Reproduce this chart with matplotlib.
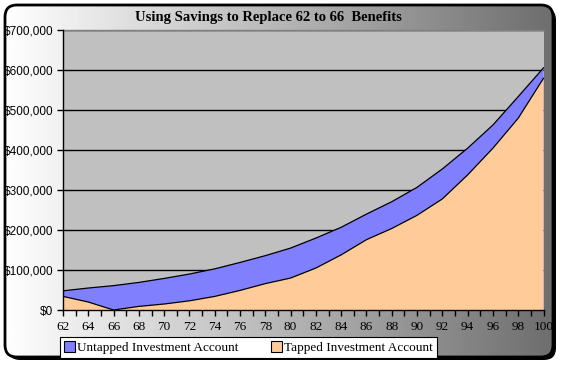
import matplotlib
matplotlib.use("Agg")
import matplotlib.pyplot as plt
import numpy as np
from matplotlib.patches import FancyBboxPatch, Patch
from matplotlib.ticker import FuncFormatter, MultipleLocator

ages = [62, 64, 66, 68, 70, 72, 74, 76, 78, 80, 82, 84, 86, 88, 90, 92, 94, 96, 98, 100]
untapped = [48000, 55000, 61000, 69000, 79000, 90000, 103000, 119000, 136000, 155000,
            180000, 207000, 240000, 271000, 307000, 353000, 405000, 463000, 534000, 606000]
tapped = [34000, 20000, 0, 9000, 15000, 23000, 34000, 49000, 66000, 80000,
          105000, 138000, 176000, 204000, 237000, 278000, 338000, 405000, 480000, 580000]
series_names = ["Untapped Investment Account", "Tapped Investment Account"]
title = "Using Savings to Replace 62 to 66  Benefits"

W, H = 561, 367
fig = plt.figure(figsize=(W / 100, H / 100), dpi=100)
fig.patch.set_facecolor("white")

# background frame with gradient
bg = fig.add_axes([0, 0, 1, 1])
bg.set_xlim(0, W)
bg.set_ylim(0, H)
bg.axis("off")
x0, y0, x1, y1 = 5, 367 - 357, 553, 367 - 5
shadow = FancyBboxPatch((x0 + 3, y0 - 3), x1 - x0, y1 - y0,
                        boxstyle="round,pad=0,rounding_size=12",
                        facecolor="black", edgecolor="none", zorder=1)
bg.add_patch(shadow)
clip = FancyBboxPatch((x0, y0), x1 - x0, y1 - y0,
                      boxstyle="round,pad=0,rounding_size=12",
                      facecolor="none", edgecolor="none", zorder=2)
bg.add_patch(clip)
grad = np.linspace(1.0, 0.43, 256).reshape(1, -1)
im = bg.imshow(grad, extent=[x0, x1, y0, y1], cmap="gray", vmin=0, vmax=1,
               aspect="auto", zorder=2, interpolation="bilinear")
im.set_clip_path(clip)
border = FancyBboxPatch((x0, y0), x1 - x0, y1 - y0,
                        boxstyle="round,pad=0,rounding_size=12",
                        facecolor="none", edgecolor="black", linewidth=2.0, zorder=3)
bg.add_patch(border)

# main plot
ax = fig.add_axes([63 / W, 1 - 310 / H, 480.5 / W, (310 - 30.3) / H])
ax.set_zorder(2)
ax.set_facecolor("#C0C0C0")
ax.fill_between(ages, 0, untapped, facecolor="#8080FF", edgecolor="none", zorder=2)
ax.plot(ages, untapped, color="black", lw=0.9, zorder=3)
ax.fill_between(ages, 0, tapped, facecolor="#FFCC99", edgecolor="none", zorder=4)
ax.plot(ages, tapped, color="black", lw=0.9, zorder=5)
ax.set_xlim(62, 100)
ax.set_ylim(0, 700000)
ax.yaxis.set_major_locator(MultipleLocator(100000))
ax.yaxis.set_major_formatter(FuncFormatter(lambda v, p: "${:,.0f}".format(v)))
ax.xaxis.set_major_locator(MultipleLocator(2))
ax.xaxis.set_minor_locator(MultipleLocator(1))
ax.grid(axis="y", color="black", lw=1.0, zorder=1)
ax.set_axisbelow(True)
for s in ["top", "right"]:
    ax.spines[s].set_color("#808080")
    ax.spines[s].set_linewidth(1.0)
ax.spines["right"].set_visible(False)
for s in ["left", "bottom"]:
    ax.spines[s].set_color("black")
    ax.spines[s].set_linewidth(1.0)
    ax.spines[s].set_zorder(6)
ax.tick_params(axis="y", direction="out", length=4, width=1, labelsize=8.5, pad=3)
ax.tick_params(axis="x", which="both", direction="out", length=4, width=1, pad=4)
for lab in ax.get_yticklabels():
    lab.set_family("Liberation Sans")
for lab in ax.get_xticklabels():
    lab.set_family("Liberation Serif")
    lab.set_fontsize(9.5)

fig.text(268 / W, 1 - 18 / H, title, ha="center", va="center",
         fontsize=10.5, fontweight="bold", family="Liberation Serif")

handles = [Patch(facecolor="#8080FF", edgecolor="black", lw=0.8),
           Patch(facecolor="#FFCC99", edgecolor="black", lw=0.8)]
leg = fig.legend(handles, series_names, loc="lower left",
                 bbox_to_anchor=(60 / W, 1 - 358 / H, 377 / W, 25 / H),
                 mode="expand", ncol=2, frameon=True, fancybox=False,
                 prop={"family": "Liberation Serif", "size": 9.5},
                 handlelength=0.8, handleheight=0.8, handletextpad=0.2,
                 borderpad=0.3, columnspacing=2.0, borderaxespad=0)
leg.get_frame().set_edgecolor("black")
leg.get_frame().set_linewidth(0.8)
leg.get_frame().set_facecolor("white")
leg.get_frame().set_alpha(1)

fig.savefig("out.png", dpi=100)
